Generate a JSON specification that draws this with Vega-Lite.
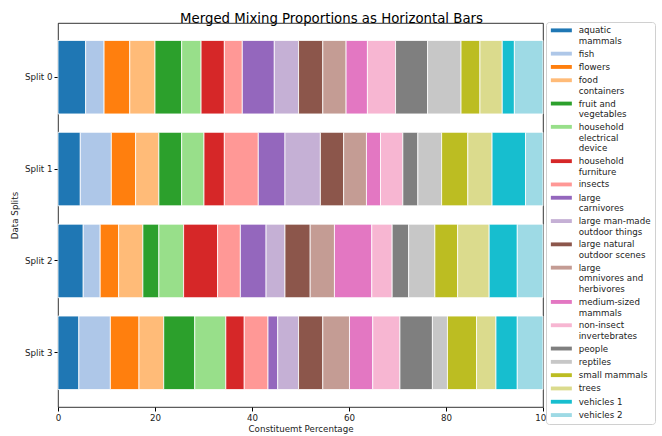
{
  "$schema": "https://vega.github.io/schema/vega-lite/v6.json",
  "autosize": {"type": "none"},
  "padding": {"left": 58, "top": 23, "right": 119, "bottom": 29},
  "width": 485,
  "height": 384,
  "background": "white",
  "title": {"text": "Merged Mixing Proportions as Horizontal Bars", "fontSize": 13.3, "fontWeight": "normal", "font": "DejaVu Sans", "color": "#000", "anchor": "middle", "dx": 31, "dy": 8, "offset": 4},
  "data": {"values": [
    {"split": "Split 0", "category": "aquatic mammals", "value": 5.7},
    {"split": "Split 0", "category": "fish", "value": 3.8},
    {"split": "Split 0", "category": "flowers", "value": 5.3},
    {"split": "Split 0", "category": "food containers", "value": 5.2},
    {"split": "Split 0", "category": "fruit and vegetables", "value": 5.5},
    {"split": "Split 0", "category": "household electrical device", "value": 4.0},
    {"split": "Split 0", "category": "household furniture", "value": 4.8},
    {"split": "Split 0", "category": "insects", "value": 3.7},
    {"split": "Split 0", "category": "large carnivores", "value": 6.6},
    {"split": "Split 0", "category": "large man-made outdoor things", "value": 5.0},
    {"split": "Split 0", "category": "large natural outdoor scenes", "value": 5.0},
    {"split": "Split 0", "category": "large omnivores and herbivores", "value": 4.8},
    {"split": "Split 0", "category": "medium-sized mammals", "value": 4.4},
    {"split": "Split 0", "category": "non-insect invertebrates", "value": 5.8},
    {"split": "Split 0", "category": "people", "value": 6.6},
    {"split": "Split 0", "category": "reptiles", "value": 6.9},
    {"split": "Split 0", "category": "small mammals", "value": 3.9},
    {"split": "Split 0", "category": "trees", "value": 4.6},
    {"split": "Split 0", "category": "vehicles 1", "value": 2.5},
    {"split": "Split 0", "category": "vehicles 2", "value": 5.9},
    {"split": "Split 1", "category": "aquatic mammals", "value": 4.6},
    {"split": "Split 1", "category": "fish", "value": 6.4},
    {"split": "Split 1", "category": "flowers", "value": 5.0},
    {"split": "Split 1", "category": "food containers", "value": 4.8},
    {"split": "Split 1", "category": "fruit and vegetables", "value": 4.7},
    {"split": "Split 1", "category": "household electrical device", "value": 4.6},
    {"split": "Split 1", "category": "household furniture", "value": 4.2},
    {"split": "Split 1", "category": "insects", "value": 7.0},
    {"split": "Split 1", "category": "large carnivores", "value": 5.5},
    {"split": "Split 1", "category": "large man-made outdoor things", "value": 7.3},
    {"split": "Split 1", "category": "large natural outdoor scenes", "value": 4.8},
    {"split": "Split 1", "category": "large omnivores and herbivores", "value": 4.7},
    {"split": "Split 1", "category": "medium-sized mammals", "value": 2.9},
    {"split": "Split 1", "category": "non-insect invertebrates", "value": 4.6},
    {"split": "Split 1", "category": "people", "value": 3.1},
    {"split": "Split 1", "category": "reptiles", "value": 4.9},
    {"split": "Split 1", "category": "small mammals", "value": 5.4},
    {"split": "Split 1", "category": "trees", "value": 5.0},
    {"split": "Split 1", "category": "vehicles 1", "value": 6.9},
    {"split": "Split 1", "category": "vehicles 2", "value": 3.6},
    {"split": "Split 2", "category": "aquatic mammals", "value": 5.2},
    {"split": "Split 2", "category": "fish", "value": 3.5},
    {"split": "Split 2", "category": "flowers", "value": 3.8},
    {"split": "Split 2", "category": "food containers", "value": 5.0},
    {"split": "Split 2", "category": "fruit and vegetables", "value": 3.3},
    {"split": "Split 2", "category": "household electrical device", "value": 5.1},
    {"split": "Split 2", "category": "household furniture", "value": 7.0},
    {"split": "Split 2", "category": "insects", "value": 4.7},
    {"split": "Split 2", "category": "large carnivores", "value": 5.3},
    {"split": "Split 2", "category": "large man-made outdoor things", "value": 3.9},
    {"split": "Split 2", "category": "large natural outdoor scenes", "value": 5.2},
    {"split": "Split 2", "category": "large omnivores and herbivores", "value": 5.0},
    {"split": "Split 2", "category": "medium-sized mammals", "value": 7.7},
    {"split": "Split 2", "category": "non-insect invertebrates", "value": 4.2},
    {"split": "Split 2", "category": "people", "value": 3.4},
    {"split": "Split 2", "category": "reptiles", "value": 5.4},
    {"split": "Split 2", "category": "small mammals", "value": 4.7},
    {"split": "Split 2", "category": "trees", "value": 6.5},
    {"split": "Split 2", "category": "vehicles 1", "value": 5.8},
    {"split": "Split 2", "category": "vehicles 2", "value": 5.3},
    {"split": "Split 3", "category": "aquatic mammals", "value": 4.3},
    {"split": "Split 3", "category": "fish", "value": 6.5},
    {"split": "Split 3", "category": "flowers", "value": 5.9},
    {"split": "Split 3", "category": "food containers", "value": 5.1},
    {"split": "Split 3", "category": "fruit and vegetables", "value": 6.4},
    {"split": "Split 3", "category": "household electrical device", "value": 6.4},
    {"split": "Split 3", "category": "household furniture", "value": 3.8},
    {"split": "Split 3", "category": "insects", "value": 4.9},
    {"split": "Split 3", "category": "large carnivores", "value": 2.0},
    {"split": "Split 3", "category": "large man-made outdoor things", "value": 4.3},
    {"split": "Split 3", "category": "large natural outdoor scenes", "value": 5.0},
    {"split": "Split 3", "category": "large omnivores and herbivores", "value": 5.5},
    {"split": "Split 3", "category": "medium-sized mammals", "value": 4.8},
    {"split": "Split 3", "category": "non-insect invertebrates", "value": 5.6},
    {"split": "Split 3", "category": "people", "value": 6.7},
    {"split": "Split 3", "category": "reptiles", "value": 3.1},
    {"split": "Split 3", "category": "small mammals", "value": 6.0},
    {"split": "Split 3", "category": "trees", "value": 4.0},
    {"split": "Split 3", "category": "vehicles 1", "value": 4.4},
    {"split": "Split 3", "category": "vehicles 2", "value": 5.3}
  ]},
  "mark": {"type": "bar", "stroke": "white", "strokeWidth": 0.8},
  "encoding": {
    "y": {
      "field": "split", "type": "nominal", "sort": "ascending",
      "scale": {"paddingInner": 0.2, "paddingOuter": 0.19},
      "axis": {"title": "Data Splits", "titleFontSize": 8.7, "titleFontWeight": "normal", "titlePadding": 5,
               "labelFontSize": 8.7, "labelPadding": 2, "tickSize": 4, "domain": false, "tickColor": "#000", "labelColor": "#222", "titleColor": "#222"}
    },
    "x": {
      "field": "value", "type": "quantitative", "stack": "zero",
      "scale": {"domain": [0, 100], "nice": false},
      "axis": {"title": "Constituemt Percentage", "values": [0, 20, 40, 60, 80, 100], "grid": false,
               "titleFontSize": 8.7, "titleFontWeight": "normal", "titlePadding": 3,
               "labelFontSize": 8.7, "labelPadding": 2, "tickSize": 4, "domain": false, "tickColor": "#000", "labelColor": "#222", "titleColor": "#222", "labelFlush": false}
    },
    "color": {
      "field": "category", "type": "nominal",
      "scale": {
        "domain": ["aquatic mammals", "fish", "flowers", "food containers", "fruit and vegetables", "household electrical device", "household furniture", "insects", "large carnivores", "large man-made outdoor things", "large natural outdoor scenes", "large omnivores and herbivores", "medium-sized mammals", "non-insect invertebrates", "people", "reptiles", "small mammals", "trees", "vehicles 1", "vehicles 2"],
        "range": ["#1f77b4", "#aec7e8", "#ff7f0e", "#ffbb78", "#2ca02c", "#98df8a", "#d62728", "#ff9896", "#9467bd", "#c5b0d5", "#8c564b", "#c49c94", "#e377c2", "#f7b6d2", "#7f7f7f", "#c7c7c7", "#bcbd22", "#dbdb8d", "#17becf", "#9edae5"]
      },
      "legend": {
        "title": null, "orient": "none", "legendX": 488, "legendY": -1,
        "symbolType": "M-3,-0.55H3V0.55H-3Z", "symbolSize": 49, "symbolStrokeWidth": 0, "symbolOffset": 7,
        "labelFontSize": 8.7, "labelLimit": 0, "labelOffset": 13, "labelColor": "#222",
        "rowPadding": 3.3, "padding": 4, "strokeColor": "#d0d0d0", "fillColor": "white", "cornerRadius": 3,
        "labelExpr": "{'aquatic mammals':['aquatic','mammals'],'food containers':['food','containers'],'fruit and vegetables':['fruit and','vegetables'],'household electrical device':['household','electrical','device'],'household furniture':['household','furniture'],'large carnivores':['large','carnivores'],'large man-made outdoor things':['large man-made','outdoor things'],'large natural outdoor scenes':['large natural','outdoor scenes'],'large omnivores and herbivores':['large','omnivores and','herbivores'],'medium-sized mammals':['medium-sized','mammals'],'non-insect invertebrates':['non-insect','invertebrates']}[datum.label] || datum.label",
        "encode": {
          "symbols": {"update": {"strokeWidth": {"value": 0}, "opacity": {"value": 1}}},
          "labels": {"update": {"lineHeight": {"value": 9.5}}}
        }
      }
    }
  },
  "config": {
    "font": "DejaVu Sans",
    "view": {"stroke": "#000", "strokeWidth": 0.8},
    "axis": {"labelFont": "DejaVu Sans", "titleFont": "DejaVu Sans"},
    "legend": {"labelFont": "DejaVu Sans"}
  }
}
